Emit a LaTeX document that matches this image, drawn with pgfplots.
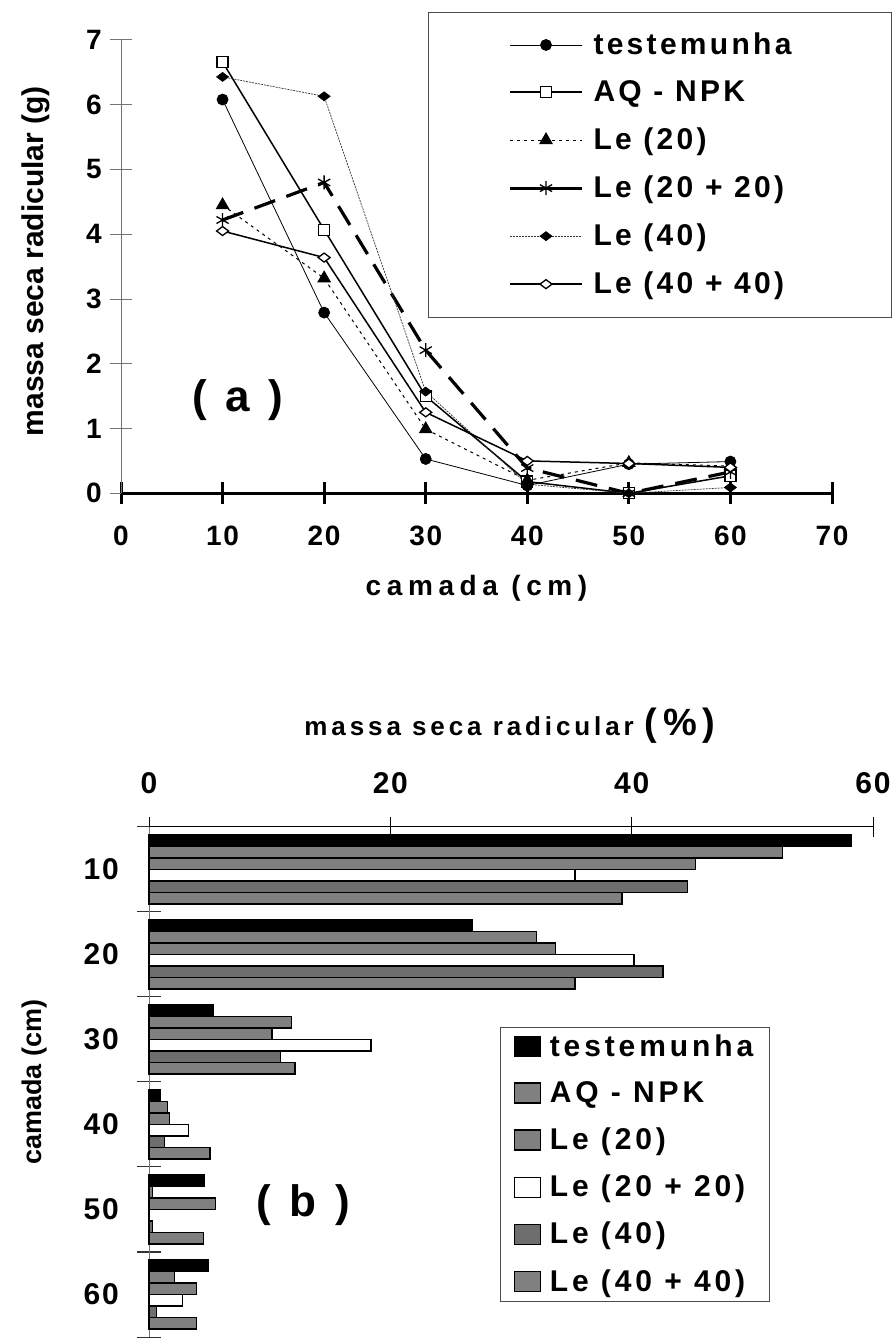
\documentclass[border=0pt]{standalone}
\usepackage{fontspec}
\setmainfont{Liberation Sans}
\newfontfamily\tickf{Liberation Sans}[LetterSpace=6]
\newfontfamily\legA{Liberation Sans}[LetterSpace=11]
\newfontfamily\legB{Liberation Sans}[LetterSpace=13]
\newfontfamily\spaced{Liberation Sans}[LetterSpace=15]
\newfontfamily\wide{Liberation Sans}[LetterSpace=20]
\usepackage{pgfplots}
\pgfplotsset{compat=1.18}

\newcommand\rowstrut{\rule[-5pt]{0pt}{30pt}}
\newcommand\entA[1]{\makebox[228pt][l]{\hspace*{10pt}\rowstrut#1}}
\newcommand\entB[1]{\makebox[216pt][l]{\hspace*{9pt}\rowstrut#1}}

\begin{document}
\begin{tikzpicture}[x=1pt,y=1pt]
\useasboundingbox (0,0) rectangle (893,1338);

% ---------- (a) line chart ----------
\begin{axis}[
  at={(121pt,844.7pt)}, anchor=south west,
  scale only axis, width=711pt, height=453.3pt,
  xmin=0, xmax=70, ymin=0, ymax=7,
  axis lines=left, axis line style={-},
  x axis line style={line width=3pt, black},
  y axis line style={line width=1pt, black!55},
  xtick={0,10,...,70}, ytick={0,1,...,7},
  tick align=center, major tick length=22pt,
  every major x tick/.append style={line width=3pt, black},
  every major y tick/.append style={line width=1pt, black!55},
  /pgf/number format/assume math mode=true,
  ticklabel style={font=\tickf\bfseries\fontsize{28}{30}\selectfont},
  xticklabel style={anchor=center, yshift=-32pt},
  yticklabel style={anchor=east, inner sep=0pt, xshift=-8pt},
  xlabel={camada (cm)},
  xlabel style={font=\wide\bfseries\fontsize{28}{30}\selectfont,
    at={(axis description cs:0.5,-0.2089)}, anchor=center},
  ylabel={massa seca radicular (g)},
  ylabel style={font=\bfseries\fontsize{30}{32}\selectfont,
    at={(axis description cs:-0.1196,0.512)}, anchor=center},
  clip=false,
  legend cell align=left,
  legend image code/.code={\draw[mark repeat=2,mark phase=2,#1]
    plot coordinates {(0pt,0pt) (36pt,0pt) (72pt,0pt)};},
  legend style={at={(axis description cs:0.4318,1.0618)}, anchor=north west,
    draw=black!70, line width=1pt, font=\legA\bfseries\fontsize{30}{30}\selectfont,
    inner xsep=80pt, inner ysep=17.5pt, row sep=16.8pt,
    nodes={inner sep=0pt, text depth={}}},
]
\addplot[black, line width=0.8pt, mark=*, mark size=5.5pt, mark options={solid}]
  coordinates {(10,6.08) (20,2.79) (30,0.53) (40,0.12) (50,0.45) (60,0.49)};
\addlegendentry{\entA{testemunha}}
\addplot[black, line width=1.5pt, mark=square*, mark size=5.5pt,
  mark options={solid, fill=white, line width=1.3pt}]
  coordinates {(10,6.66) (20,4.07) (30,1.50) (40,0.18) (50,0.0) (60,0.27)};
\addlegendentry{\entA{AQ - NPK}}
\addplot[black, line width=1pt, dash pattern=on 3pt off 4pt, mark=triangle*, mark size=7pt,
  mark options={solid}]
  coordinates {(10,4.45) (20,3.32) (30,0.99) (40,0.20) (50,0.47) (60,0.42)};
\addlegendentry{\entA{Le (20)}}
\addplot[black, line width=3.2pt, dash pattern=on 22pt off 12pt, mark=asterisk, mark size=7pt,
  mark options={solid, line width=1.3pt}, forget plot]
  coordinates {(10,4.22) (20,4.80) (30,2.21) (40,0.39) (50,0.0) (60,0.33)};
\addlegendimage{black, line width=3pt, mark=asterisk, mark size=7pt, mark options={solid, line width=1.3pt}}
\addlegendentry{\entA{Le (20 + 20)}}
\addplot[black!80, line width=0.7pt, dash pattern=on 2pt off 1pt, mark=diamond*, mark size=6pt,
  mark options={solid, black, rotate=90}]
  coordinates {(10,6.43) (20,6.13) (30,1.57) (40,0.14) (50,0.0) (60,0.09)};
\addlegendentry{\entA{Le (40)}}
\addplot[black, line width=1.5pt, mark=diamond*, mark size=6pt,
  mark options={solid, fill=white, rotate=90, line width=1.3pt}]
  coordinates {(10,4.05) (20,3.64) (30,1.25) (40,0.50) (50,0.46) (60,0.40)};
\addlegendentry{\entA{Le (40 + 40)}}
\node[font=\spaced\bfseries\fontsize{44}{46}\selectfont] at (axis cs:11.5,1.44) {( a )};
\end{axis}

% ---------- (b) bar chart ----------
\begin{axis}[
  at={(149pt,1pt)}, anchor=south west,
  scale only axis, width=724pt, height=510pt,
  xmin=0, xmax=60, ymin=-0.5, ymax=5.5,
  xbar, bar width=11.5pt,
  axis x line=top, axis y line=left, axis line style={-},
  x axis line style={line width=1pt, black},
  y axis line style={line width=1pt, black!55},
  xtick={0,20,40,60},
  ytick={0,1,2,3,4,5}, yticklabels={60,50,40,30,20,10},
  minor ytick={-0.5,0.5,1.5,2.5,3.5,4.5,5.5},
  tick align=center, major tick length=20pt, minor tick length=24pt,
  every major x tick/.append style={line width=1pt, black},
  every major y tick/.append style={draw=none},
  every minor y tick/.append style={line width=1pt, black!80},
  /pgf/number format/assume math mode=true,
  ticklabel style={font=\tickf\bfseries\fontsize{30}{32}\selectfont},
  xticklabel style={anchor=center, yshift=34pt},
  yticklabel style={anchor=east, inner sep=0pt, xshift=-20pt},
  xlabel={\spaced massa seca radicular {\fontsize{38}{40}\selectfont(\%)}},
  xlabel style={font=\bfseries\fontsize{26}{28}\selectfont,
    at={(axis description cs:0.4986,1.198)}, anchor=center},
  ylabel={camada (cm)},
  ylabel style={font=\bfseries\fontsize{27}{29}\selectfont,
    at={(axis description cs:-0.1575,0.5)}, anchor=center},
  clip=false,
  legend cell align=left,
  legend image code/.code={\draw[#1, line width=1.3pt] (0pt,-10pt) rectangle (26pt,10pt);},
  legend style={at={(axis description cs:0.4848,0.6078)}, anchor=north west,
    draw=black!70, line width=1pt, font=\legB\bfseries\fontsize{30}{30}\selectfont,
    inner xsep=13pt, inner ysep=4pt, row sep=16pt,
    nodes={inner sep=0pt, text depth={}}},
]
\addplot[draw=black, line width=1.3pt, fill=black, bar shift=28.75pt]
  coordinates {(58.2,5) (26.8,4) (5.3,3) (0.9,2) (4.6,1) (4.9,0)};
\addlegendentry{\entB{testemunha}}
\addplot[draw=black, line width=1.3pt, fill=black!50, bar shift=17.25pt]
  coordinates {(52.5,5) (32.1,4) (11.8,3) (1.55,2) (0.28,1) (2.1,0)};
\addlegendentry{\entB{AQ - NPK}}
\addplot[draw=black, line width=1.3pt, fill=black!50, bar shift=5.75pt]
  coordinates {(45.3,5) (33.7,4) (10.2,3) (1.7,2) (5.5,1) (3.95,0)};
\addlegendentry{\entB{Le (20)}}
\addplot[draw=black, line width=1.3pt, fill=white, bar shift=-5.75pt]
  coordinates {(35.3,5) (40.2,4) (18.4,3) (3.3,2) (0,1) (2.8,0)};
\addlegendentry{\entB{Le (20 + 20)}}
\addplot[draw=black, line width=1.3pt, fill=black!57, bar shift=-17.25pt]
  coordinates {(44.6,5) (42.6,4) (10.9,3) (1.3,2) (0.28,1) (0.64,0)};
\addlegendentry{\entB{Le (40)}}
\addplot[draw=black, line width=1.3pt, fill=black!50, bar shift=-28.75pt]
  coordinates {(39.2,5) (35.3,4) (12.1,3) (5.05,2) (4.5,1) (3.95,0)};
\addlegendentry{\entB{Le (40 + 40)}}
\node[font=\spaced\bfseries\fontsize{44}{46}\selectfont] at (axis cs:12.8,1.05) {( b )};
\end{axis}
\end{tikzpicture}
\end{document}
